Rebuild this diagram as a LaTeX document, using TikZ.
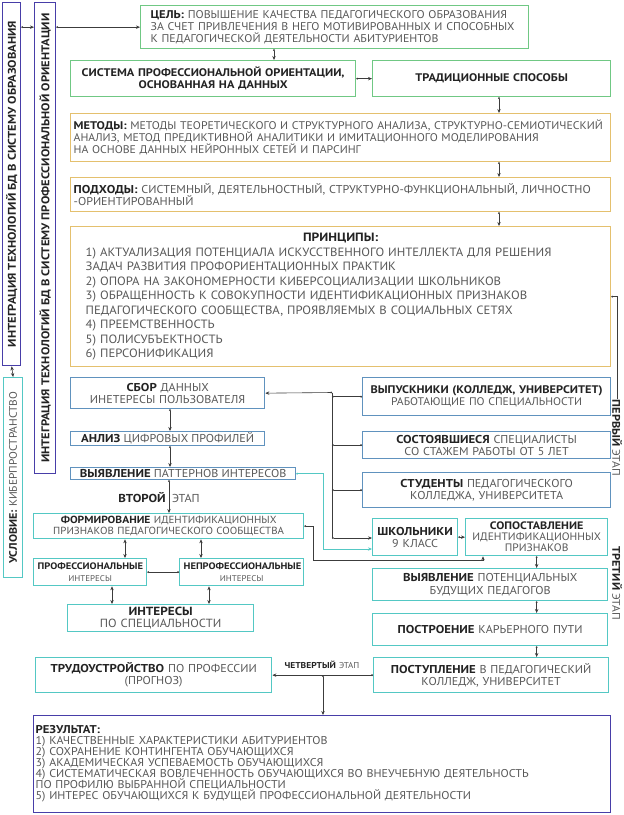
\documentclass[tikz,border=0pt]{standalone}
\usepackage{fontspec}
\setmainfont{PT Sans}[UprightFeatures={FakeStretch=1.06},BoldFeatures={FakeStretch=1.12}]
\usepackage{graphicx}
\usepackage{tikz}
\usetikzlibrary{arrows.meta}
\usepackage{xcolor}
\definecolor{ink}{RGB}{35,35,35}
\definecolor{txt}{RGB}{88,88,88}
\definecolor{lnc}{RGB}{60,60,60}
\definecolor{bgreen}{RGB}{112,200,132}
\definecolor{bgold}{RGB}{228,192,110}
\definecolor{bblue}{RGB}{96,146,190}
\definecolor{bteal}{RGB}{84,200,196}
\definecolor{bind}{RGB}{72,62,168}
\newcommand{\hb}[1]{{\bfseries\color{ink}#1}}
\newcommand{\fs}[2]{\fontsize{#1}{#2}\selectfont\lineskiplimit=-10pt}
\tikzset{
  fbox/.style={line width=1.3pt,text=txt,inner xsep=4pt,inner ysep=0pt,anchor=north west,
    font=\fs{11.4}{12.2}},
  fgreen/.style={fbox,draw=bgreen},
  fgold/.style={fbox,draw=bgold},
  fblue/.style={fbox,draw=bblue},
  fteal/.style={fbox,draw=bteal},
  find/.style={fbox,draw=bind},
  fline/.style={lnc,line width=0.6pt},
  farr/.style={fline,{Circle[length=1.8pt]}-{Stealth[length=4pt,width=3.4pt]}},
  fdarr/.style={fline,{Stealth[length=4pt,width=3.4pt]}-{Stealth[length=4pt,width=3.4pt]}},
  fdots/.style={fline,{Circle[length=1.8pt]}-{Circle[length=1.8pt]}},
  fstage/.style={text=txt,inner sep=1pt,font=\fs{11}{12}},
}

\begin{document}
\begin{tikzpicture}[x=1pt,y=-1pt]
  \path[use as bounding box,fill=white] (0,0) rectangle (624,815);
  % ---- side bars ----
  \node[find,minimum width=18pt,minimum height=363pt,inner xsep=0pt,font=\fs{11.2}{12}] (intedu) at (2,2)
     {\rotatebox{90}{\hb{ИНТЕГРАЦИЯ ТЕХНОЛОГИЙ БД В СИСТЕМУ ОБРАЗОВАНИЯ}}};
  \node[find,minimum width=21pt,minimum height=471pt,inner xsep=0pt,font=\fs{11.2}{12}] (intprof) at (34,2)
     {\rotatebox{90}{\hb{ИНТЕГРАЦИЯ ТЕХНОЛОГИЙ БД В СИСТЕМУ ПРОФЕССИОНАЛЬНОЙ ОРИЕНТАЦИИ}}};
  \node[fteal,minimum width=19pt,minimum height=200pt,inner xsep=0pt,font=\fs{10.8}{12}] (cond) at (3,377)
     {\rotatebox{90}{\hb{УСЛОВИЕ:} КИБЕРПРОСТРАНСТВО}};
  % ---- goal and frame ----
  \node[fgreen,inner xsep=10pt,text width=368pt,minimum height=43pt,align=left,font=\fs{11.2}{12.2}] (goal) at (140,5)
     {\mbox{\hb{ЦЕЛЬ:} ПОВЫШЕНИЕ КАЧЕСТВА ПЕДАГОГИЧЕСКОГО ОБРАЗОВАНИЯ}\\
      \mbox{ЗА СЧЕТ ПРИВЛЕЧЕНИЯ В НЕГО МОТИВИРОВАННЫХ И СПОСОБНЫХ}\\
      \mbox{К ПЕДАГОГИЧЕСКОЙ ДЕЯТЕЛЬНОСТИ АБИТУРИЕНТОВ}};
  \node[fgreen,text width=277pt,minimum height=36pt,align=center,font=\fs{11}{12}] (sys) at (70,60)
     {\hb{СИСТЕМА ПРОФЕССИОНАЛЬНОЙ ОРИЕНТАЦИИ,\\ ОСНОВАННАЯ НА ДАННЫХ}};
  \node[fgreen,text width=230pt,minimum height=36pt,align=center,font=\fs{11}{12}] (trad) at (372,60)
     {\hb{ТРАДИЦИОННЫЕ СПОСОБЫ}};
  \node[fgold,inner xsep=3pt,text width=534pt,minimum height=48pt,align=left,font=\fs{11.1}{12.2}] (meth) at (70,113)
     {\mbox{\hb{МЕТОДЫ:} МЕТОДЫ ТЕОРЕТИЧЕСКОГО И СТРУКТУРНОГО АНАЛИЗА, СТРУКТУРНО-СЕМИОТИЧЕСКИЙ}\\
      \mbox{АНАЛИЗ, МЕТОД ПРЕДИКТИВНОЙ АНАЛИТИКИ И ИМИТАЦИОННОГО МОДЕЛИРОВАНИЯ}\\
      \mbox{НА ОСНОВЕ ДАННЫХ НЕЙРОННЫХ СЕТЕЙ И ПАРСИНГ}};
  \node[fgold,inner xsep=3pt,text width=534pt,minimum height=34pt,align=left] (appr) at (70,177)
     {\mbox{\hb{ПОДХОДЫ:} СИСТЕМНЫЙ, ДЕЯТЕЛЬНОСТНЫЙ, СТРУКТУРНО-ФУНКЦИОНАЛЬНЫЙ, ЛИЧНОСТНО}\\
      -ОРИЕНТИРОВАННЫЙ};
  \node[fgold,inner xsep=15pt,text width=510pt,minimum height=140pt,align=left,
        font=\fs{12}{14.5}] (princ) at (70,226)
     {\makebox[510pt]{\hb{ПРИНЦИПЫ:}}\\
      1) АКТУАЛИЗАЦИЯ ПОТЕНЦИАЛА ИСКУССТВЕННОГО ИНТЕЛЛЕКТА ДЛЯ РЕШЕНИЯ\\
      ЗАДАЧ РАЗВИТИЯ ПРОФОРИЕНТАЦИОННЫХ ПРАКТИК\\
      2) ОПОРА НА ЗАКОНОМЕРНОСТИ КИБЕРСОЦИАЛИЗАЦИИ ШКОЛЬНИКОВ\\
      3) ОБРАЩЕННОСТЬ К СОВОКУПНОСТИ ИДЕНТИФИКАЦИОННЫХ ПРИЗНАКОВ\\
      ПЕДАГОГИЧЕСКОГО СООБЩЕСТВА, ПРОЯВЛЯЕМЫХ В СОЦИАЛЬНЫХ СЕТЯХ\\
      4) ПРЕЕМСТВЕННОСТЬ\\
      5) ПОЛИСУБЪЕКТНОСТЬ\\
      6) ПЕРСОНИФИКАЦИЯ};
  % ---- first stage ----
  \node[fblue,text width=186pt,minimum height=31pt,align=center] (collect) at (70,377)
     {\hb{СБОР} ДАННЫХ\\ ИНЕТЕРЕСЫ ПОЛЬЗОВАТЕЛЯ};
  \node[fblue,minimum width=194pt,minimum height=14pt] (anl) at (70,431)
     {\hb{АНЛИЗ} ЦИФРОВЫХ ПРОФИЛЕЙ};
  \node[fblue,minimum width=225pt,minimum height=12pt] (patt) at (70,467)
     {\hb{ВЫЯВЛЕНИЕ} ПАТТЕРНОВ ИНТЕРЕСОВ};
  \node[fblue,text width=240pt,minimum height=38pt,align=center,font=\fs{11}{12}] (grad) at (362,377)
     {\hb{ВЫПУСКНИКИ (КОЛЛЕДЖ, УНИВЕРСИТЕТ)}\\ РАБОТАЮЩИЕ ПО СПЕЦИАЛЬНОСТИ};
  \node[fblue,text width=240pt,minimum height=27pt,align=center] (spec) at (362,431)
     {\hb{СОСТОЯВШИЕСЯ} СПЕЦИАЛИСТЫ\\ СО СТАЖЕМ РАБОТЫ ОТ 5 ЛЕТ};
  \node[fblue,text width=240pt,minimum height=35pt,align=center] (stud) at (362,472)
     {\hb{СТУДЕНТЫ} ПЕДАГОГИЧЕСКОГО\\ КОЛЛЕДЖА, УНИВЕРСИТЕТА};
  % ---- second stage ----
  \node[fteal,text width=262pt,minimum height=25pt,align=center,font=\fs{10.3}{11}] (form) at (33,513)
     {\hb{ФОРМИРОВАНИЕ} ИДЕНТИФИКАЦИОННЫХ\\ ПРИЗНАКОВ ПЕДАГОГИЧЕСКОГО СООБЩЕСТВА};
  \node[fteal,text width=105pt,minimum height=27pt,align=center,font=\fs{9.4}{12}] (prof) at (33,558)
     {\hb{ПРОФЕССИОНАЛЬНЫЕ}\\ {\fs{8.4}{12}ИНТЕРЕСЫ}};
  \node[fteal,text width=116pt,minimum height=27pt,align=center,font=\fs{9.4}{12}] (nprof) at (179,558)
     {\hb{НЕПРОФЕССИОНАЛЬНЫЕ}\\ {\fs{8.4}{12}ИНТЕРЕСЫ}};
  \node[fteal,text width=178pt,minimum height=27pt,align=center,font=\fs{11.8}{12.5}] (intr) at (67,604)
     {\hb{ИНТЕРЕСЫ}\\ ПО СПЕЦИАЛЬНОСТИ};
  % ---- third and fourth stage ----
  \node[fteal,text width=77pt,minimum height=37pt,align=center] (pupil) at (372,518)
     {\hb{ШКОЛЬНИКИ}\\ 9 КЛАСС};
  \node[fteal,text width=134pt,minimum height=37pt,align=center,font=\fs{10.8}{11}] (cmp) at (465,518)
     {\hb{СОПОСТАВЛЕНИЕ}\\ ИДЕНТИФИКАЦИОННЫХ\\ ПРИЗНАКОВ};
  \node[fteal,text width=227pt,minimum height=32pt,align=center] (pot) at (372,568)
     {\hb{ВЫЯВЛЕНИЕ} ПОТЕНЦИАЛЬНЫХ\\ БУДУЩИХ ПЕДАГОГОВ};
  \node[fteal,text width=227pt,minimum height=32pt,align=center] (career) at (372,613)
     {\hb{ПОСТРОЕНИЕ} КАРЬЕРНОГО ПУТИ};
  \node[fteal,text width=227pt,minimum height=35pt,align=center] (enter) at (373,657)
     {\hb{ПОСТУПЛЕНИЕ} В ПЕДАГОГИЧЕСКИЙ\\ КОЛЛЕДЖ, УНИВЕРСИТЕТ};
  \node[fteal,text width=228pt,minimum height=35pt,align=center] (job) at (35,657)
     {\hb{ТРУДОУСТРОЙСТВО} ПО ПРОФЕССИИ\\ (ПРОГНОЗ)};
  \node[find,inner xsep=2pt,text width=573pt,minimum height=97pt,align=left,font=\fs{11.3}{11}] (res) at (33,715)
     {\hb{РЕЗУЛЬТАТ:}\\
      1) КАЧЕСТВЕННЫЕ ХАРАКТЕРИСТИКИ АБИТУРИЕНТОВ\\
      2) СОХРАНЕНИЕ КОНТИНГЕНТА ОБУЧАЮЩИХСЯ\\
      3) АКАДЕМИЧЕСКАЯ УСПЕВАЕМОСТЬ ОБУЧАЮЩИХСЯ\\
      4) СИСТЕМАТИЧЕСКАЯ ВОВЛЕЧЕННОСТЬ ОБУЧАЮЩИХСЯ ВО ВНЕУЧЕБНУЮ ДЕЯТЕЛЬНОСТЬ\\
      ПО ПРОФИЛЮ ВЫБРАННОЙ СПЕЦИАЛЬНОСТИ\\
      5) ИНТЕРЕС ОБУЧАЮЩИХСЯ К БУДУЩЕЙ ПРОФЕССИОНАЛЬНОЙ ДЕЯТЕЛЬНОСТИ};
  % ---- stage labels ----
  \node[fstage] (stage1) at (617,438) {\rotatebox{-90}{\hb{ПЕРВЫЙ} ЭТАП}};
  \node[fstage,anchor=east,font=\fs{11.5}{12}] (stage2) at (167,498) {\hb{ВТОРОЙ}};
  \node[fstage,anchor=west,font=\fs{11.5}{12}] (stage2b) at (171,498) {ЭТАП};
  \node[fstage] (stage3) at (617,583) {\rotatebox{-90}{\hb{ТРЕТИЙ} ЭТАП}};
  \node[fstage,font=\fs{8.5}{9}] (stage4) at (322,665) {\hb{ЧЕТВЕРТЫЙ}\hspace{3pt}ЭТАП};
  % ---- connectors: top ----
  \draw[farr] (intedu.east |- goal.west) -- (intprof.west |- goal.west);
  \draw[farr] (intprof.east |- goal.west) -- (goal.west);
  \draw[fdarr] (intedu.south) -- (cond.north);
  \draw[farr] (goal.south -| 274,0) -- (sys.north -| 274,0);
  \draw[farr] (sys.east) -- (trad.west);
  \draw[farr] (trad.south -| 499,0) -- (meth.north -| 499,0);
  \draw[farr] (meth.south -| 499,0) -- (appr.north -| 499,0);
  \draw[farr] (appr.south -| 499,0) -- (princ.north -| 499,0);
  \draw[fline,{Circle[length=1.8pt]}-] (princ.east) -| (stage1.north);
  % ---- connectors: trunk ----
  \coordinate (tk1) at (332,392.5);
  \coordinate (tk2) at (332,538);
  \draw[fline] (tk1) -- (tk2);
  \draw[farr] (tk1) -- (collect.east);
  \draw[farr] (tk2) -- (pupil.west |- tk2);
  \foreach \b in {grad,spec,stud}
    \draw[fdots] (tk1 |- \b.west) -- (\b.west);
  \draw[bteal,line width=0.8pt,{Circle[length=1.8pt]}-{Stealth[length=4pt,width=3.4pt]}]
     (patt.east) -- ++(27,0) |- (pupil.west |- 0,549);
  \draw[farr] (form.east) -- ++(9,0) -- ++(0,34) -| (cmp.south -| 483,0);
  % ---- connectors: left branch ----
  \draw[farr] (collect.south -| 170,0) -- (anl.north -| 170,0);
  \draw[farr] (anl.south -| 170,0) -- (patt.north -| 170,0);
  \draw[farr] (patt.south -| 169,0) -- (form.north -| 169,0);
  \draw[fdarr] (form.south -| 125,0) -- (prof.north -| 125,0);
  \draw[fdarr] (form.south -| 201,0) -- (nprof.north -| 201,0);
  \draw[fdots] (prof.east) -- (nprof.west);
  \draw[fdarr] (prof.south -| 112,0) -- (intr.north -| 112,0);
  \draw[fdarr] (nprof.south -| 209,0) -- (intr.north -| 209,0);
  % ---- connectors: right branch ----
  \draw[farr] (pupil.east) -- (cmp.west);
  \draw[farr] (cmp.south) -- (cmp.south |- pot.north);
  \draw[farr] (pot.south -| cmp.south) -- (career.north -| cmp.south);
  \draw[farr] (career.south -| cmp.south) -- (enter.north -| cmp.south);
  \draw[farr] (enter.west) -- (job.east);
  \draw[farr] (enter.west -| 323,0) -- (res.north -| 323,0);
\end{tikzpicture}
\end{document}
